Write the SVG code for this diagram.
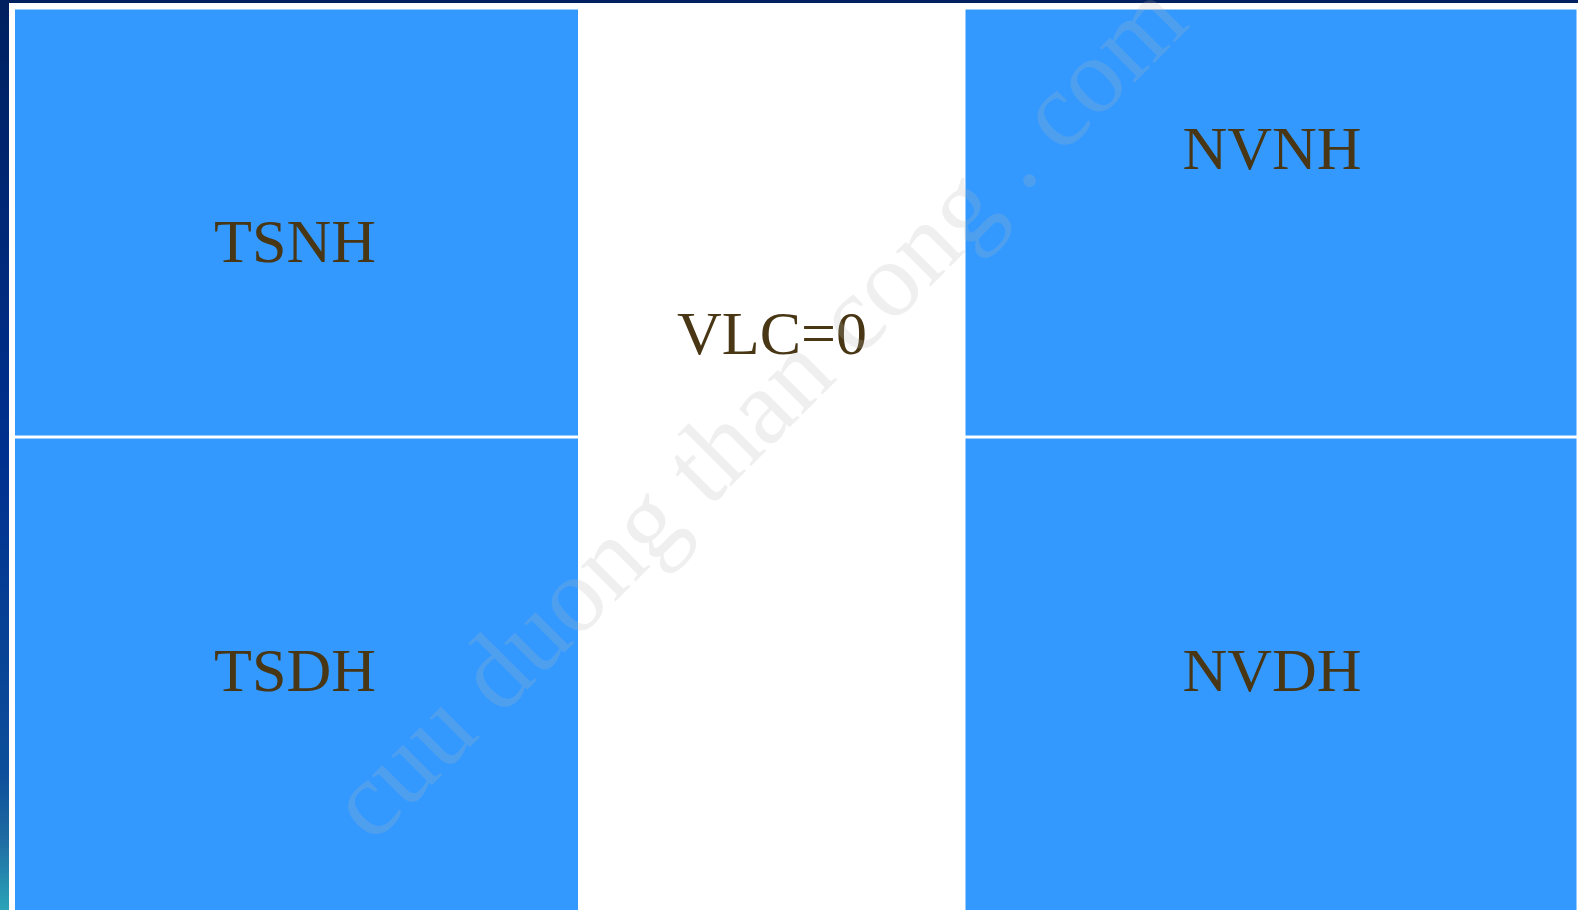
<svg xmlns="http://www.w3.org/2000/svg" width="1578" height="910" viewBox="0 0 1578 910">
  <defs>
    <linearGradient id="sideBand" x1="0" y1="0" x2="0" y2="1">
      <stop offset="0" stop-color="#00205f"/>
      <stop offset="0.5" stop-color="#00308f"/>
      <stop offset="0.85" stop-color="#0d4f9a"/>
      <stop offset="0.92" stop-color="#1e6aa2"/>
      <stop offset="1" stop-color="#2ba3b8"/>
    </linearGradient>
    <style>
      .cell { fill: #3399ff; }
      .label { font-family: "Liberation Serif", "Times New Roman", serif; font-size: 62px; fill: #483614; text-anchor: middle; }
      .mark { font-family: "Liberation Serif", "Times New Roman", serif; font-size: 107px; fill: #b4b4b4; fill-opacity: 0.22; }
    </style>
  </defs>

  <!-- slide frame -->
  <rect x="0" y="0" width="1578" height="910" fill="#00205f"/>
  <rect x="0" y="0" width="9" height="910" fill="url(#sideBand)"/>
  <rect x="9" y="3" width="1569" height="907" fill="#ffffff"/>

  <!-- balance-sheet quadrants -->
  <g id="tsnh">
    <rect class="cell" x="15" y="9.5" width="563" height="426"/>
    <text class="label" x="295" y="262">TSNH</text>
  </g>
  <g id="tsdh">
    <rect class="cell" x="15" y="438.5" width="563" height="471.5"/>
    <text class="label" x="295" y="691">TSDH</text>
  </g>
  <g id="nvnh">
    <rect class="cell" x="965.5" y="9.5" width="611" height="426"/>
    <text class="label" x="1272" y="169">NVNH</text>
  </g>
  <g id="nvdh">
    <rect class="cell" x="965.5" y="438.5" width="611" height="471.5"/>
    <text class="label" x="1272" y="691">NVDH</text>
  </g>
  <g id="vlc">
    <text class="label" x="772" y="354">VLC=0</text>
  </g>

  <g id="connectors"/>

  <!-- diagonal watermark -->
  <text class="mark" transform="translate(372 845) rotate(-45)" x="0" y="0">cuu duong than cong . com</text>
</svg>
